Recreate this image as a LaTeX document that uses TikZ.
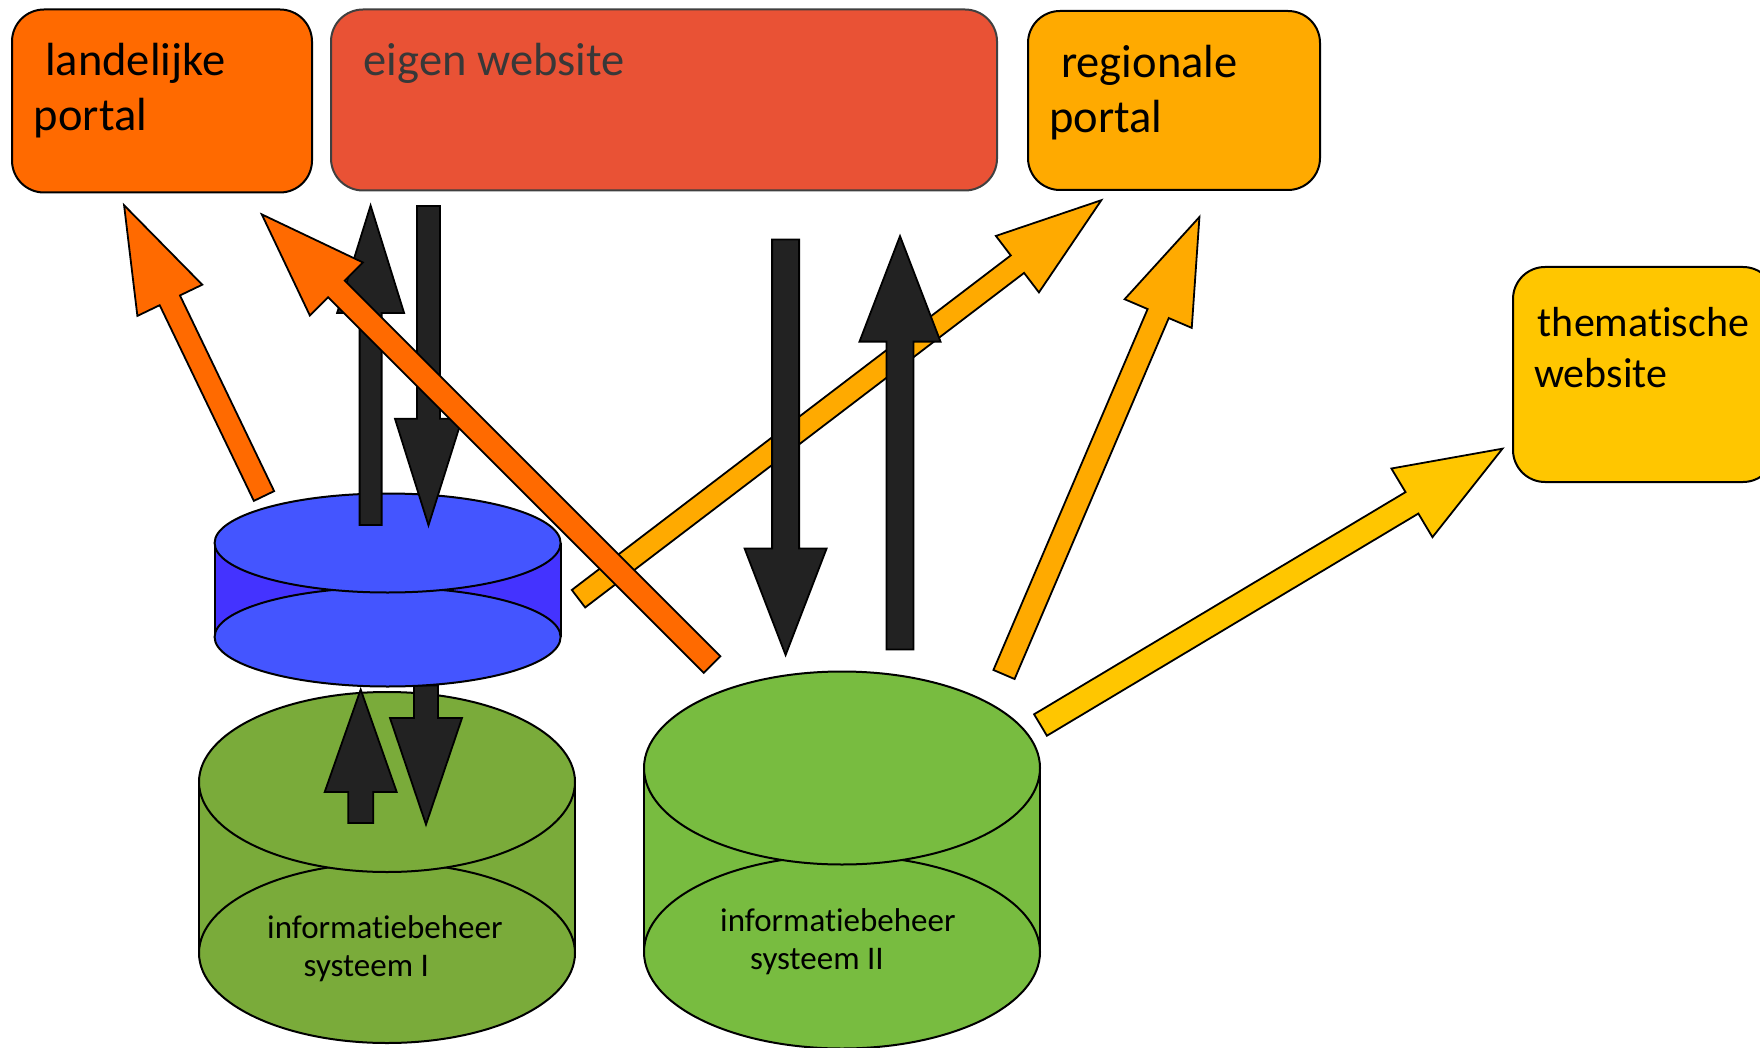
\documentclass[tikz,border=0pt]{standalone}
\usepackage{fontspec}
\setmainfont{Carlito}[Ligatures=CommonOff]
\usetikzlibrary{calc}
\usetikzlibrary{positioning}
\usetikzlibrary{shapes.geometric}
\definecolor{portalorange}{HTML}{FF6A00}
\definecolor{siterood}{HTML}{E95235}
\definecolor{portalamber}{HTML}{FFAA00}
\definecolor{themageel}{HTML}{FFC600}
\definecolor{blauwtop}{HTML}{4455FF}
\definecolor{blauwzij}{HTML}{4433FF}
\definecolor{groeneen}{HTML}{7AAB3A}
\definecolor{groentwee}{HTML}{78BC40}
\definecolor{pijlzwart}{HTML}{222222}
\tikzset{
  portalbox/.style={draw,line width=2pt,rounded corners=32pt,anchor=north west,inner sep=0pt,outer sep=0pt},
  boxtext/.style={anchor=north west,align=left,inner sep=0pt,font=\fontsize{46.5}{55}\selectfont},
  themetext/.style={anchor=north west,align=left,inner sep=0pt,font=\fontsize{42}{51}\selectfont},
  dbtext/.style={anchor=north west,align=left,inner sep=0pt,font=\fontsize{33}{38.5}\selectfont},
  schijf/.style={draw,ellipse,line width=2pt,inner sep=0pt,outer sep=0pt},
  zijlijn/.style={line width=2pt},
  blockline/.style={draw=black,line width=1.8pt,miter limit=20}
}
\newcommand{\blockarrow}[6]{
  \coordinate (headbase) at ($(#2)!#5!(#1)$);
  \coordinate (headtip) at ($(#2)!2.5pt!(#1)$);
  \draw[blockline,fill=#6] ($(#1)!#3/2!90:(#2)$) -- ($(headbase)!#3/2!-90:(#1)$)
    -- ($(headbase)!#4/2!-90:(#1)$) -- (headtip) -- ($(headbase)!#4/2!90:(#1)$)
    -- ($(headbase)!#3/2!90:(#1)$) -- ($(#1)!#3/2!-90:(#2)$) -- cycle;
}
\begin{document}
\begin{tikzpicture}[x=1pt,y=-1pt]
  \useasboundingbox (0,0) rectangle (1760,1048);

  \node[portalbox,fill=portalorange,minimum width=300pt,minimum height=183pt] (landelijk) at (12,9.5){};
  \node[portalbox,fill=siterood,draw=black!75,minimum width=666pt,minimum height=181pt] (eigen) at (331,9.5){};
  \node[portalbox,fill=portalamber,minimum width=292pt,minimum height=179pt] (regionaal) at (1028,11){};
  \node[portalbox,fill=themageel,minimum width=262pt,minimum height=215pt] (thema) at (1513,267){};

  \node[boxtext] (landelijktext) at (33.7,43){\hspace*{11.3pt}landelijke\\portal};
  \node[boxtext,text=black!78] (eigentext) at (363.6,43){eigen website};
  \node[boxtext] (regionaaltext) at (1049,45){\hspace*{12pt}regionale\\portal};
  \node[themetext] (thematext) at (1534,307){\hspace*{3.7pt}thematische\\website};

  \fill[groeneen] (199,782) rectangle (575,953);
  \draw[zijlijn] (199,782) -- (199,953);
  \draw[zijlijn] (575,782) -- (575,953);
  \node[schijf,fill=groeneen,minimum width=376pt,minimum height=180pt] (eenonder) at (387,953){};
  \node[schijf,fill=groeneen,minimum width=376pt,minimum height=180pt] (eenboven) at (387,782){};

  \fill[groentwee] (644,768) rectangle (1040,952);
  \draw[zijlijn] (644,768) -- (644,952);
  \draw[zijlijn] (1040,768) -- (1040,952);
  \node[schijf,fill=groentwee,minimum width=396pt,minimum height=193pt] (tweeonder) at (842,952){};
  \node[schijf,fill=groentwee,minimum width=396pt,minimum height=193pt] (tweeboven) at (842,768){};

  \node[dbtext] (eentext) at (267,915){informatiebeheer\\\hspace*{36.5pt}systeem I};
  \node[dbtext] (tweetext) at (720,908){informatiebeheer\\\hspace*{30pt}systeem II};

  \coordinate (eenop) at (360.7,823);
  \coordinate (eenopkop) at (360.7,687);
  \coordinate (eenneer) at (426,685.4);
  \coordinate (eenneerkop) at (426,827);
  \blockarrow{eenop}{eenopkop}{25pt}{72pt}{105pt}{pijlzwart}
  \blockarrow{eenneer}{eenneerkop}{24pt}{72pt}{109pt}{pijlzwart}

  \fill[blauwzij] (214.6,543) rectangle (560.6,637);
  \draw[zijlijn] (214.6,543) -- (214.6,637);
  \draw[zijlijn] (560.6,543) -- (560.6,637);
  \node[schijf,fill=blauwtop,minimum width=346pt,minimum height=99pt] (blauwonder) at (387.6,637){};
  \node[schijf,fill=blauwtop,minimum width=346pt,minimum height=99pt] (blauwboven) at (387.6,543){};

  \coordinate (regstart) at (578.5,598.7);
  \coordinate (regkop) at (1103.3,198.7);
  \blockarrow{regstart}{regkop}{22pt}{71pt}{108pt}{portalamber}

  \coordinate (blauwop) at (370.6,525);
  \coordinate (blauwopkop) at (370.6,203);
  \coordinate (blauwneer) at (428.5,206);
  \coordinate (blauwneerkop) at (428.5,527.8);
  \coordinate (tweeneer) at (785.6,239.6);
  \coordinate (tweeneerkop) at (785.6,657.5);
  \coordinate (tweeop) at (900,649.5);
  \coordinate (tweeopkop) at (900,233.6);
  \blockarrow{blauwop}{blauwopkop}{22pt}{67pt}{110pt}{pijlzwart}
  \blockarrow{blauwneer}{blauwneerkop}{23pt}{67pt}{109pt}{pijlzwart}
  \blockarrow{tweeneer}{tweeneerkop}{27pt}{82pt}{109pt}{pijlzwart}
  \blockarrow{tweeop}{tweeopkop}{27pt}{81pt}{108pt}{pijlzwart}

  \coordinate (landstart) at (264,496);
  \coordinate (landkop) at (123,203);
  \coordinate (landtwee) at (712,664.6);
  \coordinate (landtweekop) at (260,212.6);
  \blockarrow{landstart}{landkop}{22.5pt}{72pt}{108pt}{portalorange}
  \blockarrow{landtwee}{landtweekop}{23.5pt}{75pt}{108pt}{portalorange}

  \coordinate (regtwee) at (1004,674.5);
  \coordinate (regtweekop) at (1200.4,214.7);
  \coordinate (themastart) at (1040.5,725);
  \coordinate (themakop) at (1504.6,447.4);
  \blockarrow{regtwee}{regtweekop}{23pt}{73pt}{107.5pt}{portalamber}
  \blockarrow{themastart}{themakop}{25pt}{80pt}{108pt}{themageel}
\end{tikzpicture}
\end{document}
